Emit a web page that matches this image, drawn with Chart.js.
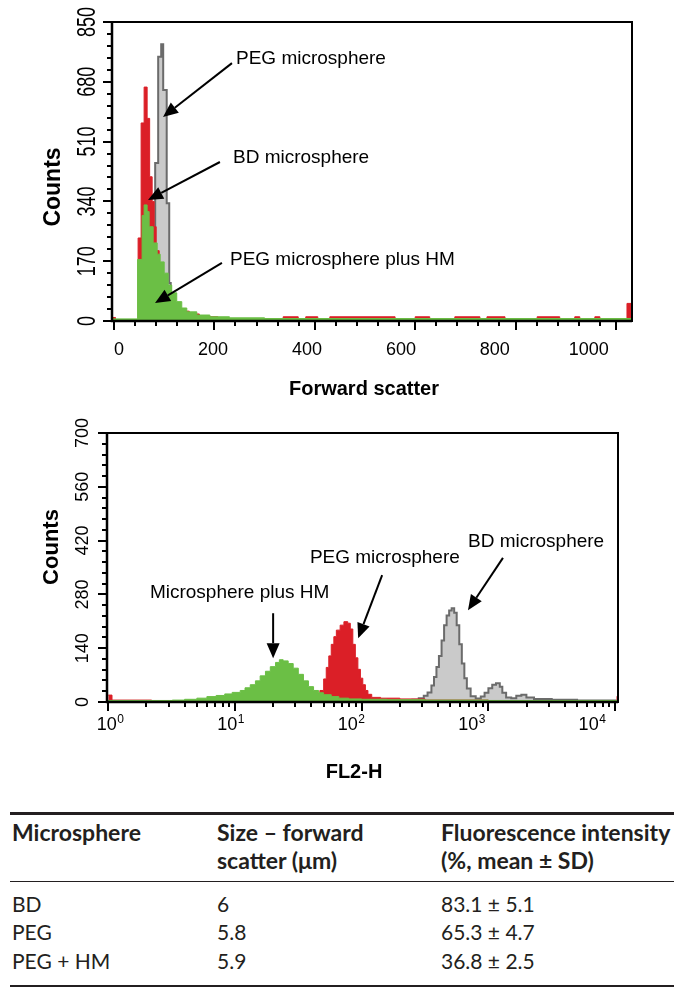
<!DOCTYPE html>
<html>
<head>
<meta charset="utf-8">
<title>Microsphere flow cytometry</title>
<script src="https://cdn.jsdelivr.net/npm/chart.js@4.4.0/dist/chart.umd.min.js"></script>
<style>
  html, body { margin: 0; padding: 0; background: #fff; }
  #page { position: relative; width: 681px; height: 999px; overflow: hidden; }
  #page canvas { position: absolute; left: 0; }
  #fscChart { top: 0; }
  #fl2Chart { top: 400px; }
  .rule { position: absolute; left: 10px; width: 664px; background: #231f20; }
  .cell { position: absolute; font-family: Lato, 'Open Sans', sans-serif; font-size: 21px; line-height: 28px; color: #231f20; white-space: pre; }
  .cell.head { font-weight: bold; font-size: 23px; }
</style>
</head>
<body>
<div id="page">
  <canvas id="fscChart" width="681" height="400"></canvas>
  <canvas id="fl2Chart" width="681" height="400"></canvas>
  <div id="table"></div>
</div>
<script>
// Forward scatter histogram: bin start (channel) and counts
const fscPegX = [-4, 76, 82, 88, 94, 98, 105, 110, 113, 120, 130, 1032];
const fscPegY = [0, 200, 449, 751, 787, 657, 335, 108, 40, 15, 5, 5];

const fscBdX = [-4, 3, 48, 54, 60, 66, 71, 76, 80, 84, 90, 96, 102, 108, 115, 125, 135, 150, 170, 181, 207,
                337, 367, 382, 406, 430, 560, 600, 629, 679, 729, 743, 779, 843, 888, 918, 928, 958, 968, 1022, 1032];
const fscBdY = [10, 4, 236, 563, 665, 576, 410, 340, 268, 200, 160, 112, 88, 66, 50, 36, 28, 20, 14, 12, 6,
                12, 6, 12, 6, 12, 6, 12, 6, 12, 6, 12, 6, 12, 6, 12, 6, 12, 6, 50, 50];

const fscHmX = [-4, 47, 56, 60, 66, 70, 78, 86, 92, 100, 108, 115, 125, 135, 145, 165, 191, 230, 300, 1032];
const fscHmY = [6, 175, 300, 330, 311, 268, 222, 190, 168, 136, 102, 80, 55, 37, 26, 17, 12, 9, 7, 7];

const fscXTicks = [0, 200, 400, 600, 800, 1000];
const fscYTicks = [0, 170, 340, 510, 680, 850];

// FL2-H histogram: FL2 value and counts
const fl2HmX = [1, 2, 3.2, 4, 5, 6, 7.1, 8.3, 9.5, 11, 12, 13.2, 14.5, 15.8, 17.4, 19, 20.9, 22.4, 24, 26.3,
                28.8, 31.6, 34.7, 38, 41.7, 45.7, 50, 57.5, 66, 79, 100, 158, 316, 1000, 3160, 10600];
const fl2HmY = [4, 4, 5, 7, 10, 14, 17, 21, 25, 30, 37, 45, 55, 68, 80, 92, 103, 110, 107, 100,
                88, 72, 55, 40, 30, 24, 19, 14, 10, 8, 7, 6, 5, 4, 4, 4];

const fl2PegX = [1, 1.07, 2.2, 39.8, 43.7, 46.8, 50.1, 52.5, 55, 57.5, 60.3, 63.1, 67.6, 72.4, 77.6, 81.3, 85.1,
                 89.1, 93.3, 97.7, 102, 107, 112, 120, 141, 200, 316, 1000, 10000, 10350, 10600];
const fl2PegY = [18, 5, 3, 6, 12, 30, 60, 90, 120, 150, 170, 187, 200, 209, 205, 190, 150,
                 115, 85, 62, 45, 30, 20, 12, 10, 8, 5, 3, 3, 15, 15];

const fl2BdX = [1, 200, 251, 282, 309, 331, 355, 372, 389, 407, 427, 447, 468, 490, 513, 537, 562, 589, 617, 646,
                676, 724, 794, 871, 933, 1000, 1072, 1148, 1230, 1288, 1380, 1514, 1660, 1820, 1995, 2291, 3162, 5012, 10000, 10600];
const fl2BdY = [0, 4, 6, 10, 16, 25, 43, 65, 91, 120, 160, 200, 225, 238, 244, 232, 200, 150, 100, 62,
                35, 15, 9, 14, 24, 36, 45, 49, 40, 24, 12, 10, 16, 19, 12, 8, 6, 4, 3, 3];

const fl2XTicks = [1, 10, 100, 1000, 10000];
const fl2YTicks = [0, 140, 280, 420, 560, 700];

// Summary table
const tableHead = ['Microsphere', 'Size \u2013 forward\nscatter (\u03bcm)', 'Fluorescence intensity\n(%, mean \u00b1 SD)'];
const tableName = ['BD', 'PEG', 'PEG + HM'];
const tableSize = ['6', '5.8', '5.9'];
const tableFluor = ['83.1 \u00b1 5.1', '65.3 \u00b1 4.7', '36.8 \u00b1 2.5'];

const FONT = "'Liberation Sans', Arial, sans-serif";
const RED = '#db1f27';
const GREEN = '#6bbf45';
const GRAY_FILL = '#cacaca';
const GRAY_LINE = '#6b6b6b';

function pts(xs, ys) {
    return xs.map((x, i) => ({ x: x, y: ys[i] }));
}

// each value holds from its x up to the next x
function histo(xs, ys, fillColor, lineColor, lineWidth, order) {
    return {
        data: pts(xs, ys),
        stepped: 'before',
        fill: 'origin',
        backgroundColor: fillColor,
        borderColor: lineColor,
        borderWidth: lineWidth,
        pointRadius: 0,
        order: order
    };
}

function arrow(ctx, x1, y1, x2, y2) {
    const ang = Math.atan2(y2 - y1, x2 - x1);
    const len = 15, half = 6.5;
    const bx = x2 - Math.cos(ang) * len, by = y2 - Math.sin(ang) * len;
    ctx.beginPath();
    ctx.moveTo(x1, y1);
    ctx.lineTo(bx, by);
    ctx.lineWidth = 2;
    ctx.stroke();
    ctx.beginPath();
    ctx.moveTo(x2, y2);
    ctx.lineTo(bx + Math.sin(ang) * half, by - Math.cos(ang) * half);
    ctx.lineTo(bx - Math.sin(ang) * half, by + Math.cos(ang) * half);
    ctx.closePath();
    ctx.fill();
}

// draws frame, ticks, tick labels, axis titles and the arrow notes
function figureAxes(cfg) {
    return {
        id: 'figureAxes',
        afterDatasetsDraw(chart) {
            const { ctx, chartArea: a, scales: { x, y } } = chart;
            ctx.save();
            ctx.strokeStyle = '#000';
            ctx.fillStyle = '#000';

            // frame
            ctx.lineWidth = 2;
            ctx.strokeRect(a.left, a.top, a.right - a.left, a.bottom - a.top);
            ctx.lineWidth = 2.5;
            ctx.beginPath();
            ctx.moveTo(a.left, a.top);
            ctx.lineTo(a.left, a.bottom);
            ctx.lineTo(a.right, a.bottom);
            ctx.stroke();

            // ticks
            ctx.lineWidth = 2;
            ctx.beginPath();
            cfg.xMinor.forEach(v => {
                const px = Math.round(x.getPixelForValue(v));
                ctx.moveTo(px, a.bottom); ctx.lineTo(px, a.bottom + 5);
            });
            cfg.xTicks.forEach(v => {
                const px = Math.round(x.getPixelForValue(v));
                ctx.moveTo(px, a.bottom); ctx.lineTo(px, a.bottom + 9);
            });
            cfg.yMinor.forEach(v => {
                const py = Math.round(y.getPixelForValue(v));
                ctx.moveTo(a.left, py); ctx.lineTo(a.left - 5, py);
            });
            cfg.yTicks.forEach(v => {
                const py = Math.round(y.getPixelForValue(v));
                ctx.moveTo(a.left, py); ctx.lineTo(a.left - 9, py);
            });
            ctx.stroke();

            // y tick labels, rotated
            ctx.font = '18px ' + FONT;
            ctx.textAlign = 'center';
            ctx.textBaseline = 'middle';
            cfg.yTicks.forEach(v => {
                ctx.save();
                ctx.translate(cfg.yLabelX, y.getPixelForValue(v));
                ctx.rotate(-Math.PI / 2);
                ctx.scale(1, cfg.yLabelStretch);
                ctx.fillText(String(v), 0, 0);
                ctx.restore();
            });

            // x tick labels
            const p0 = x.getPixelForValue(cfg.xTicks[0]);
            ctx.textBaseline = 'alphabetic';
            cfg.xTicks.forEach((v, i) => {
                const px = p0 + cfg.xLabelShift + (x.getPixelForValue(v) - p0) * cfg.xLabelSqueeze;
                if (cfg.logLabels) {
                    ctx.font = '18px ' + FONT;
                    const w1 = ctx.measureText('10').width;
                    ctx.font = '12px ' + FONT;
                    const w2 = ctx.measureText(String(i)).width;
                    const left = px - (w1 + w2) / 2;
                    ctx.textAlign = 'left';
                    ctx.font = '18px ' + FONT;
                    ctx.fillText('10', left, cfg.xLabelY);
                    ctx.font = '12px ' + FONT;
                    ctx.fillText(String(i), left + w1 + 0.5, cfg.xLabelY - 7);
                } else {
                    ctx.textAlign = 'center';
                    ctx.fillText(String(v), px, cfg.xLabelY);
                }
            });

            // axis titles
            ctx.font = 'bold ' + cfg.yTitleSize + 'px ' + FONT;
            ctx.textAlign = 'center';
            ctx.textBaseline = 'middle';
            ctx.save();
            ctx.translate(cfg.yTitleX, cfg.yTitleY);
            ctx.rotate(-Math.PI / 2);
            ctx.fillText('Counts', 0, 0);
            ctx.restore();
            ctx.font = 'bold 20px ' + FONT;
            ctx.textBaseline = 'alphabetic';
            ctx.fillText(cfg.xTitle, cfg.xTitleX, cfg.xTitleY);

            // notes with arrows, placed in data coordinates
            ctx.font = '19px ' + FONT;
            ctx.textAlign = 'left';
            cfg.notes.forEach(n => {
                ctx.fillText(n.text, x.getPixelForValue(n.at[0]), y.getPixelForValue(n.at[1]));
                arrow(ctx,
                      x.getPixelForValue(n.from[0]), y.getPixelForValue(n.from[1]),
                      x.getPixelForValue(n.to[0]), y.getPixelForValue(n.to[1]));
            });
            ctx.restore();
        }
    };
}

// minor tick values
const fscXMinor = [];
fscXTicks.forEach(v => { for (let k = 1; k <= 4; k++) fscXMinor.push(v + 42 * k); });
const fscYMinor = [];
for (let v = 0; v <= 850; v += 34) fscYMinor.push(v);
const fl2XMinor = [];
[1, 10, 100, 1000, 10000].forEach(d => { for (let k = 2; k <= 9; k++) if (d * k <= 10540) fl2XMinor.push(d * k); });
const fl2YMinor = [];
for (let v = 0; v <= 700; v += 28) fl2YMinor.push(v);

new Chart(document.getElementById('fscChart'), {
    type: 'line',
    data: {
        datasets: [
            histo(fscHmX, fscHmY, GREEN, GREEN, 1, 1),
            histo(fscBdX, fscBdY, RED, RED, 1, 2),
            histo(fscPegX, fscPegY, GRAY_FILL, GRAY_LINE, 2, 3)
        ]
    },
    options: {
        responsive: false,
        animation: false,
        layout: { padding: { left: 112, top: 22, right: 49, bottom: 79 } },
        plugins: { legend: { display: false }, tooltip: { enabled: false } },
        scales: {
            x: { type: 'linear', min: -4, max: 1032, display: false },
            y: { type: 'linear', min: 0, max: 850, display: false }
        }
    },
    plugins: [figureAxes({
        xTicks: fscXTicks, xMinor: fscXMinor.filter(v => v < 1032),
        yTicks: fscYTicks, yMinor: fscYMinor,
        yLabelX: 88, yLabelStretch: 1.45,
        xLabelY: 355, xLabelShift: 5, xLabelSqueeze: 0.936, logLabels: false,
        yTitleX: 54, yTitleY: 187, yTitleSize: 23,
        xTitle: 'Forward scatter', xTitleX: 364, xTitleY: 395,
        notes: [
            { text: 'PEG microsphere', at: [243, 730], from: [235, 733], to: [97.6, 580] },
            { text: 'BD microsphere', at: [237, 449], from: [211, 452], to: [67.7, 344] },
            { text: 'PEG microsphere plus HM', at: [231, 159], from: [215, 165], to: [81.7, 51] }
        ]
    })]
});

new Chart(document.getElementById('fl2Chart'), {
    type: 'line',
    data: {
        datasets: [
            histo(fl2HmX, fl2HmY, GREEN, GREEN, 1, 1),
            histo(fl2PegX, fl2PegY, RED, RED, 1, 2),
            histo(fl2BdX, fl2BdY, GRAY_FILL, GRAY_LINE, 2, 3)
        ]
    },
    options: {
        responsive: false,
        animation: false,
        layout: { padding: { left: 107, top: 33, right: 63, bottom: 98 } },
        plugins: { legend: { display: false }, tooltip: { enabled: false } },
        scales: {
            x: { type: 'logarithmic', min: 0.977, max: 10540, display: false },
            y: { type: 'linear', min: 0, max: 700, display: false }
        }
    },
    plugins: [figureAxes({
        xTicks: fl2XTicks, xMinor: fl2XMinor,
        yTicks: fl2YTicks, yMinor: fl2YMinor,
        yLabelX: 83, yLabelStretch: 1,
        xLabelY: 330, xLabelShift: 1.7, xLabelSqueeze: 0.951, logLabels: true,
        yTitleX: 52, yTitleY: 147, yTitleSize: 22,
        xTitle: 'FL2-H', xTitleX: 354, xTitleY: 378,
        notes: [
            { text: 'Microsphere plus HM', at: [2.13, 270], from: [20, 231], to: [20, 114] },
            { text: 'PEG microsphere', at: [39, 362], from: [145, 330], to: [93.8, 166] },
            { text: 'BD microsphere', at: [690, 403], from: [1303, 375], to: [690, 239] }
        ]
    })]
});

// table, built as positioned text
(function buildTable() {
    const box = document.getElementById('table');
    const colX = [12, 217, 441];
    const rules = [[812, 2.5], [880.5, 1.5], [985, 1.5]];
    rules.forEach(r => {
        const d = document.createElement('div');
        d.className = 'rule';
        d.style.top = r[0] + 'px';
        d.style.height = r[1] + 'px';
        box.appendChild(d);
    });
    tableHead.forEach((t, i) => {
        const d = document.createElement('div');
        d.className = 'cell head';
        d.style.left = colX[i] + 'px';
        d.style.top = '818px';
        d.textContent = t;
        box.appendChild(d);
    });
    tableName.forEach((name, r) => {
        [name, tableSize[r], tableFluor[r]].forEach((t, i) => {
            const d = document.createElement('div');
            d.className = 'cell';
            d.style.left = colX[i] + 'px';
            d.style.top = (889.5 + r * 28.5) + 'px';
            d.textContent = t;
            box.appendChild(d);
        });
    });
})();
</script>
</body>
</html>
